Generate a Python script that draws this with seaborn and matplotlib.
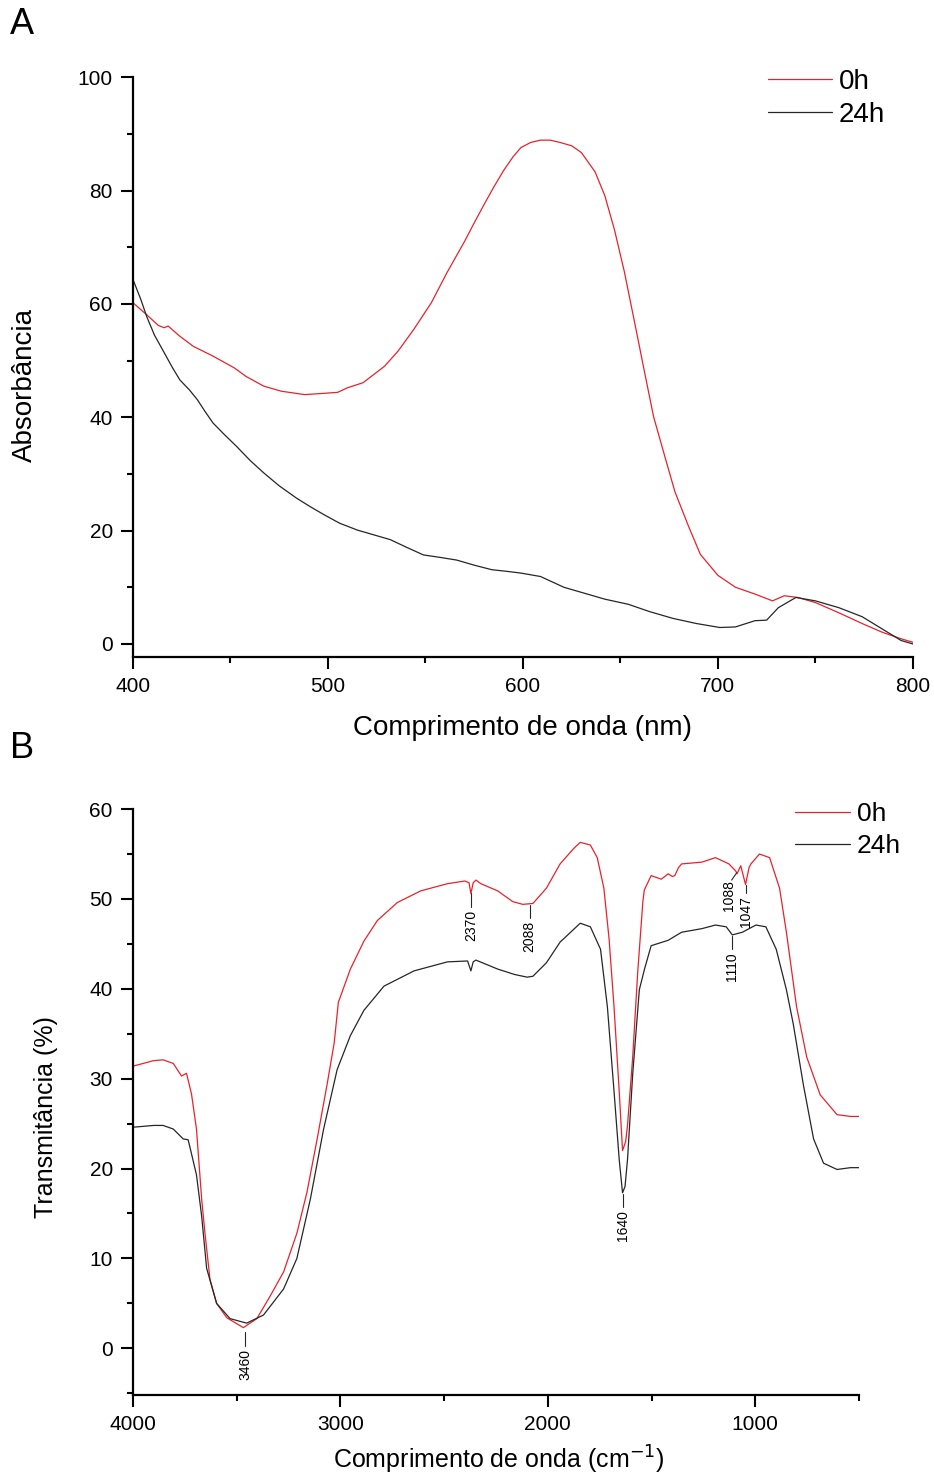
import numpy as np
import pandas as pd
import seaborn as sns
import matplotlib.pyplot as plt
from matplotlib.ticker import MultipleLocator

# ---- Panel A: UV-Vis absorbance ----
wl_0h = [400, 407, 413, 416, 418, 424, 431, 441, 452, 458, 467, 476, 488, 497,
         505, 510, 518, 529, 536, 544, 553, 561, 570, 575, 580, 585, 590, 595,
         599, 604, 609, 614, 619, 625, 630, 637, 642, 647, 652, 657, 662, 667,
         673, 678, 685, 691, 700, 709, 719, 728, 734, 741, 750, 762, 774, 784,
         794, 800]
abs_0h = [60.2, 58.1, 56.2, 55.8, 56.1, 54.3, 52.5, 50.8, 48.7, 47.2, 45.5, 44.6,
          44.0, 44.2, 44.4, 45.2, 46.1, 49.0, 51.7, 55.5, 60.2, 65.5, 71.0, 74.3,
          77.5, 80.6, 83.5, 86.0, 87.6, 88.5, 88.9, 88.9, 88.5, 87.9, 86.7, 83.3,
          79.1, 73.0, 65.7, 57.2, 48.6, 40.1, 32.8, 26.8, 20.7, 15.8, 12.1, 10.0,
          8.8, 7.6, 8.5, 8.2, 7.3, 5.5, 3.6, 2.1, 0.9, 0.3]

wl_24h = [400, 404, 407, 411, 416, 420, 424, 429, 433, 437, 441, 447, 453, 460,
          467, 475, 484, 491, 498, 506, 515, 523, 532, 540, 549, 557, 566, 575,
          584, 592, 599, 609, 621, 633, 642, 654, 665, 677, 689, 701, 709, 719,
          725, 731, 740, 750, 762, 774, 784, 794, 800]
abs_24h = [64.3, 60.8, 57.8, 54.5, 51.4, 48.9, 46.6, 44.8, 43.1, 41.0, 39.0, 36.9,
           34.9, 32.4, 30.2, 27.9, 25.7, 24.2, 22.8, 21.3, 20.1, 19.3, 18.4, 17.1,
           15.7, 15.3, 14.8, 13.9, 13.1, 12.8, 12.5, 11.9, 10.0, 8.8, 7.9, 7.0,
           5.7, 4.5, 3.6, 2.9, 3.0, 4.1, 4.2, 6.4, 8.2, 7.6, 6.4, 4.8, 2.7, 0.6,
           0.0]

# ---- Panel B: FTIR transmittance ----
wn_0h = [4000, 3950, 3903, 3855, 3806, 3766, 3742, 3718, 3694, 3669, 3653, 3629,
         3597, 3548, 3468, 3403, 3339, 3274, 3210, 3161, 3113, 3064, 3030, 3010,
         2952, 2887, 2822, 2726, 2613, 2484, 2400, 2380, 2371, 2360, 2347, 2323,
         2242, 2169, 2121, 2072, 2007, 1941, 1876, 1844, 1795, 1762, 1730, 1705,
         1681, 1656, 1640, 1625, 1616, 1591, 1567, 1542, 1535, 1502, 1453, 1420,
         1400, 1388, 1370, 1355, 1257, 1192, 1127, 1094, 1088, 1070, 1047, 1030,
         1021, 980, 931, 883, 850, 801, 752, 687, 606, 541, 500]
tr_0h = [31.4, 31.7, 32.0, 32.1, 31.7, 30.3, 30.6, 28.3, 24.4, 16.6, 12.8, 7.7,
         5.0, 3.4, 2.3, 3.3, 5.8, 8.5, 12.8, 17.4, 23.2, 29.4, 34.0, 38.5,
         42.2, 45.3, 47.6, 49.6, 50.9, 51.7, 52.0, 51.8, 50.6, 51.8, 52.1, 51.7,
         50.9, 49.7, 49.4, 49.5, 51.2, 53.9, 55.6, 56.3, 56.0, 54.6, 51.2, 45.6,
         38.0, 28.6, 22.0, 23.0, 24.8, 32.4, 41.8, 49.7, 51.0, 52.6, 52.2, 52.8,
         52.5, 52.6, 53.5, 53.9, 54.1, 54.6, 53.9, 53.1, 52.8, 53.7, 51.6, 53.5,
         53.9, 55.0, 54.6, 51.2, 46.3, 38.0, 32.4, 28.2, 26.0, 25.8, 25.8]

wn_24h = [4000, 3900, 3855, 3806, 3758, 3734, 3694, 3669, 3645, 3597, 3532, 3452,
          3371, 3274, 3210, 3145, 3081, 3016, 2952, 2887, 2790, 2645, 2484, 2387,
          2371, 2360, 2347, 2242, 2161, 2100, 2072, 2007, 1941, 1844, 1795, 1746,
          1713, 1681, 1656, 1640, 1628, 1616, 1591, 1559, 1534, 1502, 1420, 1355,
          1257, 1192, 1140, 1111, 1062, 997, 949, 899, 850, 817, 768, 719, 671,
          606, 541, 500]
tr_24h = [24.6, 24.8, 24.8, 24.4, 23.3, 23.2, 19.3, 14.7, 8.9, 5.0, 3.3, 2.8,
          3.7, 6.6, 10.0, 16.6, 24.4, 31.0, 34.8, 37.6, 40.3, 42.0, 43.0, 43.1,
          42.0, 43.0, 43.2, 42.2, 41.6, 41.3, 41.4, 42.9, 45.2, 47.3, 46.9, 44.4,
          38.0, 28.6, 21.0, 17.3, 18.0, 21.0, 30.5, 39.9, 42.2, 44.8, 45.4, 46.3,
          46.7, 47.1, 46.9, 46.0, 46.3, 47.1, 46.9, 44.4, 39.9, 36.1, 29.3, 23.3,
          20.6, 19.9, 20.1, 20.1]

# peak labels: (wavenumber, text, series)
peaks = [(3460, "3460", "0h"), (2370, "2370", "0h"), (2088, "2088", "0h"),
         (1640, "1640", "24h"), (1110, "1110", "24h"), (1047, "1047", "0h")]

RED = "#e8222c"
BLACK = "#262626"

sns.set_style("ticks")
plt.rcParams['font.family'] = ['Liberation Sans', 'DejaVu Sans']
plt.rcParams['text.color'] = 'black'
plt.rcParams['axes.labelcolor'] = 'black'
plt.rcParams['xtick.color'] = 'black'
plt.rcParams['ytick.color'] = 'black'
plt.rcParams['axes.edgecolor'] = 'black'

fig = plt.figure(figsize=(9.34, 14.77), dpi=100)
ax_a = fig.add_axes([0.1424, 0.5552, 0.835, 0.3925])
ax_b = fig.add_axes([0.1424, 0.0555, 0.7773, 0.3967])


def style_axes(ax):
    for side in ["top", "right"]:
        ax.spines[side].set_visible(False)
    for side in ["left", "bottom"]:
        ax.spines[side].set_linewidth(1.6)
        ax.spines[side].set_color("black")
    ax.tick_params(which="major", direction="out", length=8.5, width=1.5,
                   labelsize=15, pad=6, color="black", labelcolor="black")
    ax.tick_params(which="minor", direction="out", length=4.5, width=1.5,
                   color="black")


# Panel A
df_a0 = pd.DataFrame({"x": wl_0h, "y": abs_0h})
df_a24 = pd.DataFrame({"x": wl_24h, "y": abs_24h})
sns.lineplot(data=df_a0, x="x", y="y", ax=ax_a, color=RED, lw=0.9, label="0h")
sns.lineplot(data=df_a24, x="x", y="y", ax=ax_a, color=BLACK, lw=0.9, label="24h")
ax_a.set_xlim(400, 800)
ax_a.set_ylim(-2.3, 100)
ax_a.xaxis.set_major_locator(MultipleLocator(100))
ax_a.xaxis.set_minor_locator(MultipleLocator(50))
ax_a.yaxis.set_major_locator(MultipleLocator(20))
ax_a.yaxis.set_minor_locator(MultipleLocator(10))
style_axes(ax_a)
ax_a.set_xlabel("Comprimento de onda (nm)", fontsize=20, va="center")
ax_a.set_ylabel("Absorbância", fontsize=20, va="center")
ax_a.xaxis.set_label_coords(0.4994, -0.1225)
ax_a.yaxis.set_label_coords(-0.1385, 0.469)
ax_a.legend(loc="upper left", bbox_to_anchor=(768 / 934, 1 - 69 / 1477),
            bbox_transform=fig.transFigure, frameon=False, fontsize=20,
            handlelength=2.3, handletextpad=0.25, labelspacing=0.25,
            borderpad=0, borderaxespad=0)

# Panel B
df_b0 = pd.DataFrame({"x": wn_0h, "y": tr_0h})
df_b24 = pd.DataFrame({"x": wn_24h, "y": tr_24h})
sns.lineplot(data=df_b0, x="x", y="y", ax=ax_b, color=RED, lw=0.9, label="0h")
sns.lineplot(data=df_b24, x="x", y="y", ax=ax_b, color=BLACK, lw=0.9, label="24h")
ax_b.set_xlim(4000, 500)
ax_b.set_ylim(-5.2, 60)
ax_b.xaxis.set_major_locator(MultipleLocator(1000))
ax_b.xaxis.set_minor_locator(MultipleLocator(500))
ax_b.yaxis.set_major_locator(MultipleLocator(10))
ax_b.yaxis.set_minor_locator(MultipleLocator(5))
style_axes(ax_b)
ax_b.set_xlabel("Comprimento de onda (cm$^{-1}$)", fontsize=18, va="center")
ax_b.set_ylabel("Transmitância (%)", fontsize=18, va="center")
ax_b.xaxis.set_label_coords(0.504, -0.111)
ax_b.yaxis.set_label_coords(-0.12, 0.474)
ax_b.legend(loc="upper left", bbox_to_anchor=(795 / 934, 1 - 802 / 1477),
            bbox_transform=fig.transFigure, frameon=False, fontsize=19,
            handlelength=2.1, handletextpad=0.25, labelspacing=0.3,
            borderpad=0, borderaxespad=0)

# peak labels with short leader lines under the curve
series = {"0h": (wn_0h, tr_0h), "24h": (wn_24h, tr_24h)}
for wn, txt, key in peaks:
    xs, ys = series[key]
    yc = np.interp(wn, xs[::-1], ys[::-1])
    if txt == "1047":
        y1, y2 = yc, yc - 0.9
    elif txt == "3460":
        y1, y2 = yc - 0.6, yc - 2.2
    else:
        y1, y2 = yc - 0.1, yc - 1.6
    ax_b.plot([wn, wn], [y1, y2], color=BLACK, lw=0.8)
    ax_b.text(wn, y2 - 0.35, txt, rotation=90, ha="center", va="top", fontsize=10)

# 1088 label sits to the left with a slanted leader
y1088 = np.interp(1088, wn_0h[::-1], tr_0h[::-1])
ax_b.plot([1090, 1114], [y1088 + 0.1, y1088 - 0.7], color=BLACK, lw=0.8)
ax_b.text(1128, y1088 - 0.75, "1088", rotation=90, ha="center", va="top", fontsize=10)

fig.text(10 / 934, 1 - 25 / 1477, "A", fontsize=26, ha="left", va="center")
fig.text(10 / 934, 1 - 748 / 1477, "B", fontsize=26, ha="left", va="center")

fig.savefig("out.png", dpi=100, facecolor="white")
